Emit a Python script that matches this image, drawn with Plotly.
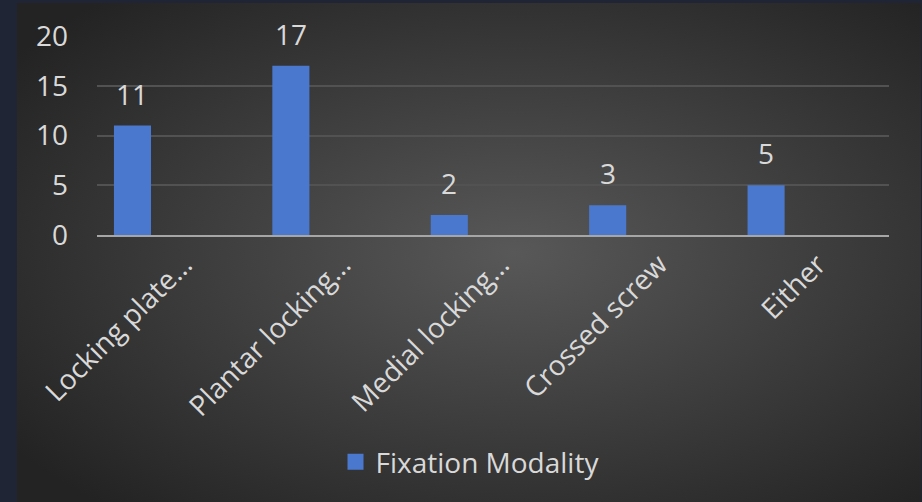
import plotly.graph_objects as go
import urllib.parse

categories = ["Locking plate…", "Plantar locking…", "Medial locking…", "Crossed screw", "Either"]
values = [11, 17, 2, 3, 5]
series_name = "Fixation Modality"
y_ticks = [0, 5, 10, 15, 20]

W, H = 922, 502
ml, mr, mt, mb = 97, 33, 36, 267
pw, ph = W - ml - mr, H - mt - mb

bar_width = 0.234
bar_offset = -0.393
label_shift = 0.05
xpos = list(range(len(categories)))

text_color = "#d9d9d9"
font_family = "Open Sans, Noto Sans, DejaVu Sans, sans-serif"
fs = 28

svg = (
    "<svg xmlns='http://www.w3.org/2000/svg' width='904' height='499' viewBox='0 0 904 499' preserveAspectRatio='none'>"
    "<defs><radialGradient id='g' cx='55%' cy='50%' r='68%'>"
    "<stop offset='0%' stop-color='#585858'/>"
    "<stop offset='100%' stop-color='#232323'/>"
    "</radialGradient></defs>"
    "<rect width='904' height='499' fill='url(#g)'/></svg>"
)
src = "data:image/svg+xml;charset=utf-8," + urllib.parse.quote(svg)

fig = go.Figure()
fig.add_trace(go.Bar(
    x=xpos, y=values, width=bar_width, offset=bar_offset,
    marker=dict(color="#4a78cf", line=dict(width=0)),
    showlegend=False, name=series_name,
))
fig.add_trace(go.Scatter(
    x=[None], y=[None], mode="markers", name=series_name,
    marker=dict(symbol="square", size=18, color="#4a78cf"),
))

for xi, v in zip(xpos, values):
    fig.add_annotation(
        x=xi + bar_offset + bar_width / 2, y=v, text=str(v), showarrow=False,
        yanchor="bottom", yshift=11, font=dict(size=fs, color=text_color, family=font_family),
    )

fig.add_layout_image(
    source=src, xref="paper", yref="paper",
    x=(17 - ml) / pw, y=(H - mb - 3) / ph, sizex=904 / pw, sizey=499 / ph,
    xanchor="left", yanchor="top", sizing="stretch", layer="below",
)

fig.update_layout(
    width=W, height=H,
    margin=dict(l=ml, r=mr, t=mt, b=mb, pad=0),
    paper_bgcolor="#1f2534",
    plot_bgcolor="rgba(0,0,0,0)",
    font=dict(family=font_family, color=text_color, size=fs),
    showlegend=True,
    legend=dict(
        orientation="h", x=(470 - ml) / pw, xanchor="center",
        y=(H - mb - 462) / ph, yanchor="middle",
        font=dict(size=fs, color=text_color, family=font_family),
        bgcolor="rgba(0,0,0,0)",
    ),
    xaxis=dict(
        range=[-0.5, len(categories) - 0.5],
        tickmode="array", tickvals=[x + label_shift for x in xpos], ticktext=categories,
        tickangle=-45, showgrid=False, zeroline=False,
        showline=True, linecolor="#a6a6a6", linewidth=2,
        ticks="", tickfont=dict(size=fs, color=text_color),
        ticklabelstandoff=0,
    ),
    yaxis=dict(
        range=[0, 20], tickmode="array", tickvals=y_ticks,
        showgrid=True, gridcolor="#525252", gridwidth=1.5,
        zeroline=False, showline=False, ticks="",
        tickfont=dict(size=fs, color=text_color),
        ticklabelstandoff=28,
    ),
)

fig.write_html("out.html")
